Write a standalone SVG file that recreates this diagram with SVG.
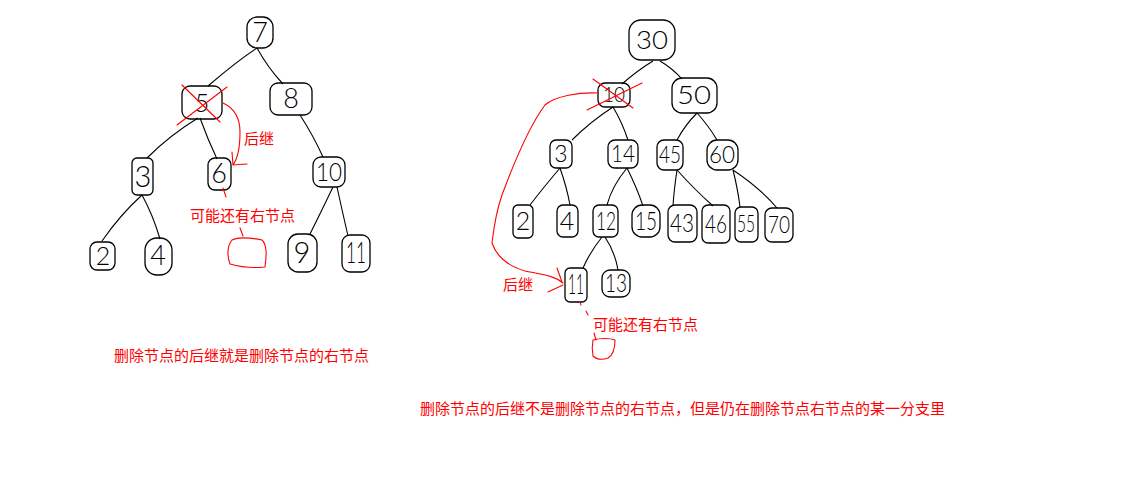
<svg xmlns="http://www.w3.org/2000/svg" width="1145" height="497" viewBox="0 0 1145 497">
<style>
.n{fill:none;stroke:#000;stroke-width:1.3;stroke-linejoin:round}
.d{font-family:Lato,"Liberation Sans","DejaVu Sans",sans-serif;font-weight:300;fill:#000;text-anchor:middle}
.e{fill:none;stroke:#000;stroke-width:1.1}
.r{fill:none;stroke:#f00;stroke-width:1.1;stroke-linecap:round}
.t{font-family:"Noto Sans CJK SC","Noto Sans CJK JP",sans-serif;font-size:15px;fill:#f00}
</style>
<rect width="1145" height="497" fill="#fff"/>
<g id="connectors">
<path class="e" d="M257,48 Q236,62 208,86"/>
<path class="e" d="M257,48 Q268,68 283,84"/>
<path class="e" d="M198,118 Q170,135 147,158"/>
<path class="e" d="M200,118 Q208,140 217,159"/>
<path class="e" d="M300,115 Q313,135 323,157"/>
<path class="e" d="M142,195 Q120,215 102,241"/>
<path class="e" d="M142,195 Q153,215 160,239"/>
<path class="e" d="M333,187 Q322,210 310,234"/>
<path class="e" d="M337,187 Q342,210 348,236"/>
<path class="e" d="M653,61 Q638,70 622,84"/>
<path class="e" d="M660,61 Q672,68 682,79"/>
<path class="e" d="M613,107 Q590,122 572,140"/>
<path class="e" d="M613,107 Q622,122 628,140"/>
<path class="e" d="M697,113 Q685,125 677,140"/>
<path class="e" d="M697,113 Q708,125 717,140"/>
<path class="e" d="M560,168 Q543,188 530,205"/>
<path class="e" d="M560,168 Q567,188 570,205"/>
<path class="e" d="M627,168 Q612,186 607,205"/>
<path class="e" d="M627,168 Q637,188 643,206"/>
<path class="e" d="M677,170 Q674,190 673,206"/>
<path class="e" d="M677,170 Q695,190 713,206"/>
<path class="e" d="M733,170 Q738,190 740,207"/>
<path class="e" d="M733,170 Q760,188 777,208"/>
<path class="e" d="M602,237 Q590,252 583,268"/>
<path class="e" d="M605,237 Q615,252 618,270"/>
</g>
<g id="n7"><rect class="n" x="247" y="17" width="26" height="31" rx="10"/><text class="d" x="260" y="42" font-size="27">7</text></g>
<g id="n5"><rect class="n" x="182" y="86" width="40" height="33" rx="8"/><text class="d" x="202" y="112" font-size="25">5</text></g>
<g id="n8"><rect class="n" x="270" y="83" width="42" height="32" rx="8"/><text class="d" x="291" y="108" font-size="27">8</text></g>
<g id="n3a"><rect class="n" x="132" y="158" width="21" height="37" rx="5"/><text class="d" x="143" y="187" font-size="29">3</text></g>
<g id="n6"><rect class="n" x="208" y="158" width="23" height="32" rx="7"/><text class="d" x="219" y="183" font-size="27">6</text></g>
<g id="n10a"><rect class="n" x="313" y="157" width="32" height="30" rx="8"/><text class="d" x="329" y="181" font-size="25" textLength="26" lengthAdjust="spacingAndGlyphs">10</text></g>
<g id="n2a"><rect class="n" x="90" y="242" width="25" height="28" rx="7"/><text class="d" x="103" y="265" font-size="25">2</text></g>
<g id="n4a"><rect class="n" x="145" y="238" width="27" height="37" rx="12"/><text class="d" x="158" y="265" font-size="27">4</text></g>
<g id="n9"><rect class="n" x="288" y="234" width="29" height="38" rx="10"/><text class="d" x="302" y="263" font-size="29">9</text></g>
<g id="n11a"><rect class="n" x="342" y="235" width="28" height="37" rx="8"/><text class="d" x="356" y="263" font-size="29" textLength="20" lengthAdjust="spacingAndGlyphs">11</text></g>
<g id="n30"><rect class="n" x="629" y="20" width="46" height="40" rx="12"/><text class="d" x="652" y="49" font-size="26" textLength="32" lengthAdjust="spacingAndGlyphs">30</text></g>
<g id="n10b"><rect class="n" x="598" y="83" width="32" height="24" rx="7"/><text class="d" x="614" y="102" font-size="21" textLength="22" lengthAdjust="spacingAndGlyphs">10</text></g>
<g id="n50"><rect class="n" x="672" y="78" width="45" height="35" rx="10"/><text class="d" x="694" y="104" font-size="26" textLength="34" lengthAdjust="spacingAndGlyphs">50</text></g>
<g id="n3b"><rect class="n" x="550" y="140" width="22" height="28" rx="6"/><text class="d" x="561" y="162" font-size="23">3</text></g>
<g id="n14"><rect class="n" x="608" y="140" width="30" height="28" rx="7"/><text class="d" x="623" y="162" font-size="23" textLength="24" lengthAdjust="spacingAndGlyphs">14</text></g>
<g id="n45"><rect class="n" x="657" y="140" width="26" height="30" rx="7"/><text class="d" x="670" y="163" font-size="23" textLength="22" lengthAdjust="spacingAndGlyphs">45</text></g>
<g id="n60"><rect class="n" x="707" y="140" width="31" height="30" rx="10"/><text class="d" x="722" y="163" font-size="23" textLength="26" lengthAdjust="spacingAndGlyphs">60</text></g>
<g id="n2b"><rect class="n" x="513" y="205" width="20" height="33" rx="5"/><text class="d" x="523" y="230" font-size="25">2</text></g>
<g id="n4b"><rect class="n" x="557" y="205" width="21" height="32" rx="6"/><text class="d" x="567" y="230" font-size="25">4</text></g>
<g id="n12"><rect class="n" x="593" y="205" width="25" height="32" rx="6"/><text class="d" x="606" y="230" font-size="25" textLength="20" lengthAdjust="spacingAndGlyphs">12</text></g>
<g id="n15"><rect class="n" x="632" y="205" width="28" height="32" rx="10"/><text class="d" x="646" y="230" font-size="25" textLength="22" lengthAdjust="spacingAndGlyphs">15</text></g>
<g id="n43"><rect class="n" x="668" y="205" width="29" height="37" rx="7"/><text class="d" x="682" y="232" font-size="25" textLength="24" lengthAdjust="spacingAndGlyphs">43</text></g>
<g id="n46"><rect class="n" x="702" y="205" width="28" height="38" rx="6"/><text class="d" x="716" y="233" font-size="25" textLength="22" lengthAdjust="spacingAndGlyphs">46</text></g>
<g id="n55"><rect class="n" x="735" y="207" width="23" height="35" rx="6"/><text class="d" x="746" y="232" font-size="23" textLength="18" lengthAdjust="spacingAndGlyphs">55</text></g>
<g id="n70"><rect class="n" x="765" y="208" width="28" height="34" rx="7"/><text class="d" x="779" y="233" font-size="23" textLength="22" lengthAdjust="spacingAndGlyphs">70</text></g>
<g id="n11b"><rect class="n" x="565" y="268" width="22" height="34" rx="5"/><text class="d" x="576" y="294" font-size="27" textLength="16" lengthAdjust="spacingAndGlyphs">11</text></g>
<g id="n13"><rect class="n" x="602" y="270" width="28" height="27" rx="8"/><text class="d" x="616" y="292" font-size="25" textLength="22" lengthAdjust="spacingAndGlyphs">13</text></g>
<g id="annotations-left">
<path class="r" d="M182,85 L220,122 M177,125 L227,87"/>
<path class="r" d="M223,103 C234,108 240,118 240,132 C240,148 238,158 233,165 M232,152 L233,165 L247,164"/>
<path class="r" d="M223,188 L226,197 M240,228 L243,236"/>
<path class="r" d="M232,240 C240,236 252,238 262,240 C268,246 266,258 265,267 C255,268 240,267 230,264 C227,256 227,246 232,240 Z"/>
<text class="t" x="244" y="144">后继</text>
<text class="t" x="190" y="221">可能还有右节点</text>
</g>
<g id="annotations-right">
<path class="r" d="M593,79 L633,108 M587,110 L642,83"/>
<path class="r" d="M598,93 C580,92 555,96 545,105 C530,125 515,160 502,195 C495,215 493,235 492,243 C496,255 505,265 525,271 C545,275 555,276 563,283 M557,268 L562,282 M548,292 L563,285"/>
<path class="r" d="M580,302 L581,305 M586,311 L588,315 M594,333 L596,340"/>
<path class="r" d="M593,340 C600,338 610,338 615,340 C615,348 613,355 608,358 C602,360 597,360 593,356 C592,350 592,345 593,340 Z"/>
<text class="t" x="503" y="290">后继</text>
<text class="t" x="593" y="330">可能还有右节点</text>
</g>
<text class="t" x="114" y="361">删除节点的后继就是删除节点的右节点</text>
<text class="t" x="420" y="414">删除节点的后继不是删除节点的右节点，但是仍在删除节点右节点的某一分支里</text>
</svg>
